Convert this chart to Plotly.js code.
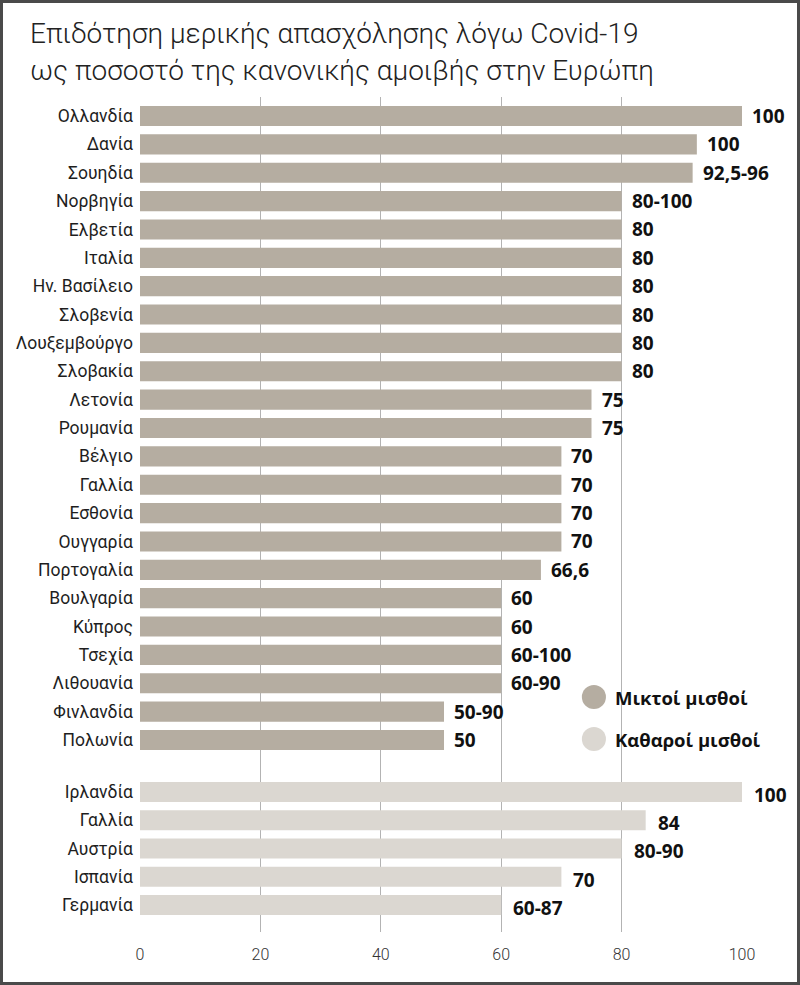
<!DOCTYPE html>
<html>
<head>
<meta charset="utf-8">
<script src="https://cdn.plot.ly/plotly-3.0.1.min.js"></script>
<style>
  html, body { margin: 0; padding: 0; background: #fff; }
  #wrap { position: relative; width: 800px; height: 985px; }
  #chart { width: 800px; height: 985px; }
  #frame { position: absolute; left: 0; top: 0; width: 800px; height: 985px; box-sizing: border-box; border: 3px solid #4a4a4a; pointer-events: none; }
</style>
</head>
<body>
<div id="wrap"><div id="chart"></div><div id="frame"></div></div>
<script>
// ---- Data ----
const grossCountries = ["Ολλανδία","Δανία","Σουηδία","Νορβηγία","Ελβετία","Ιταλία","Ην. Βασίλειο","Σλοβενία","Λουξεμβούργο","Σλοβακία","Λετονία","Ρουμανία","Βέλγιο","Γαλλία","Εσθονία","Ουγγαρία","Πορτογαλία","Βουλγαρία","Κύπρος","Τσεχία","Λιθουανία","Φινλανδία","Πολωνία"];
const grossValues = [100, 92.5, 91.8, 80, 80, 80, 80, 80, 80, 80, 75, 75, 70, 70, 70, 70, 66.6, 60, 60, 60, 60, 50.5, 50.5];
const grossLabels = ["100","100","92,5-96","80-100","80","80","80","80","80","80","75","75","70","70","70","70","66,6","60","60","60-100","60-90","50-90","50"];

const netCountries = ["Ιρλανδία","Γαλλία","Αυστρία","Ισπανία","Γερμανία"];
const netValues = [100, 84, 80, 70, 60];
const netLabels = ["100","84","80-90","70","60-87"];

const seriesNames = ["Μικτοί μισθοί","Καθαροί μισθοί"];
const xTicks = [0, 20, 40, 60, 80, 100];
const titleLines = ["Επιδότηση μερικής απασχόλησης λόγω Covid-19","ως ποσοστό της κανονικής αμοιβής στην Ευρώπη"];

// ---- Styles ----
const grossColor = "#b5ada1";
const netColor = "#dbd7d1";
const catFont = { family: "Roboto, Liberation Sans, sans-serif", size: 17.5, color: "#1e1e1e", weight: 400 };
const valFont = { family: "Open Sans, Lato, sans-serif", size: 19, color: "#111", weight: 700 };

const traces = [
  { type: "bar", orientation: "h", name: seriesNames[0], y: grossCountries, x: grossValues,
    xaxis: "x2", yaxis: "y", marker: { color: grossColor }, showlegend: false, hoverinfo: "skip" },
  { type: "bar", orientation: "h", name: seriesNames[1], y: netCountries, x: netValues,
    xaxis: "x", yaxis: "y2", marker: { color: netColor }, showlegend: false, hoverinfo: "skip" }
];

const annotations = [];
grossCountries.forEach((c, i) => annotations.push({
  x: grossValues[i], y: c, xref: "x2", yref: "y", text: grossLabels[i], showarrow: false,
  xanchor: "left", xshift: 8, yshift: 0, font: valFont
}));
netCountries.forEach((c, i) => annotations.push({
  x: netValues[i], y: c, xref: "x", yref: "y2", text: netLabels[i], showarrow: false,
  xanchor: "left", xshift: 10, yshift: -3, font: valFont
}));
// legend
const legendColors = [grossColor, netColor];
const legendY = [0.2814, 0.2311];
const shapes = [];
seriesNames.forEach((n, i) => {
  annotations.push({ xref: "paper", yref: "paper", x: 0.786, y: legendY[i], text: n, showarrow: false,
    xanchor: "left", yanchor: "middle", font: { family: "Open Sans, sans-serif", size: 18.5, weight: 700, color: "#111" } });
  shapes.push({ type: "circle", xref: "paper", yref: "paper", x0: 0.734, x1: 0.774,
    y0: legendY[i] - 0.0144, y1: legendY[i] + 0.0144, fillcolor: legendColors[i], line: { width: 0 } });
});

const gridStyle = { showgrid: true, gridcolor: "#b3b3b3", gridwidth: 1.3, zeroline: true, zerolinecolor: "rgba(0,0,0,0)" };

const layout = {
  width: 800, height: 985,
  paper_bgcolor: "#fff", plot_bgcolor: "#fff",
  margin: { l: 140, r: 58, t: 97, b: 53 },
  bargap: 0.29,
  title: { text: titleLines.join("<br>"), x: 30/800, xanchor: "left", xref: "container",
    y: 0.956, yanchor: "top", yref: "container",
    font: { family: "Roboto, sans-serif", size: 28, color: "#222", weight: 300 } },
  xaxis: Object.assign({ range: [0, 100], anchor: "y2", tickvals: xTicks, ticks: "", ticklabelstandoff: 11,
    tickfont: { family: "Roboto, sans-serif", size: 16, color: "#333", weight: 300 }, fixedrange: true }, gridStyle),
  xaxis2: Object.assign({ range: [0, 100], anchor: "y", matches: "x", tickvals: xTicks, showticklabels: false, ticks: "" }, gridStyle),
  yaxis: { domain: [0.1988, 1], range: [22.917, -0.67], type: "category", ticks: "", ticklabelstandoff: 6,
    tickfont: catFont, showgrid: false, zeroline: false },
  yaxis2: { domain: [0, 0.1988], range: [4.956, -0.92], type: "category", ticks: "", ticklabelstandoff: 6,
    tickfont: catFont, showgrid: false, zeroline: false },
  annotations: annotations,
  shapes: shapes,
  showlegend: false
};

Plotly.newPlot("chart", traces, layout, { displayModeBar: false, staticPlot: true });
</script>
</body>
</html>
